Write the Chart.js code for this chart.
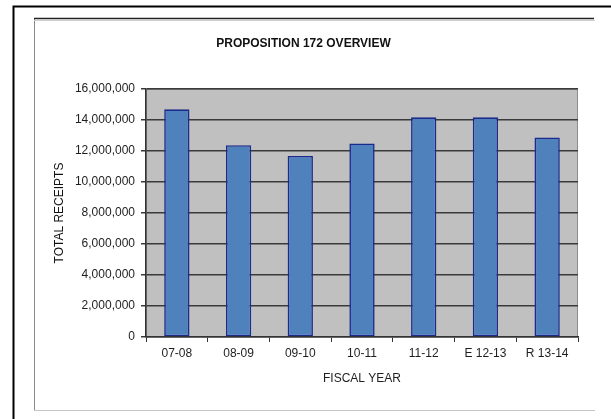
<!DOCTYPE html>
<html><head><meta charset="utf-8">
<script src="https://cdn.jsdelivr.net/npm/chart.js@4"></script>
<style>html,body{margin:0;padding:0;background:#fff;overflow:hidden;}</style>
</head><body>
<canvas id="c" width="611" height="419" style="display:block;width:611px;height:419px"></canvas>
<script>
const categories = ['07-08', '08-09', '09-10', '10-11', '11-12', 'E 12-13', 'R 13-14'];
const receipts = [14690000, 12370000, 11680000, 12490000, 14170000, 14170000, 12870000];
const yMin = 0;
const yMax = 16000000;
const yStep = 2000000;
const chartTitle = 'PROPOSITION 172 OVERVIEW';
const xTitle = 'FISCAL YEAR';
const yTitle = 'TOTAL RECEIPTS';

const FONT = '"Liberation Sans", Arial, sans-serif';
const TEXT = '#1e1e1e';

const frame = {
  id: 'frame',
  beforeDraw(chart) {
    const {ctx, chartArea: a} = chart;
    ctx.save();
    ctx.fillStyle = '#fff';
    ctx.fillRect(0, 0, chart.width, chart.height);
    // outer black frame (top + left)
    ctx.strokeStyle = '#000';
    ctx.lineWidth = 2;
    ctx.beginPath();
    ctx.moveTo(13.5, chart.height);
    ctx.lineTo(13.5, 6.5);
    ctx.lineTo(chart.width, 6.5);
    ctx.stroke();
    // inner chart frame
    ctx.lineWidth = 1;
    ctx.strokeStyle = '#8a8a8a';
    ctx.beginPath(); ctx.moveTo(34.5, 18); ctx.lineTo(34.5, 410.5); ctx.stroke();
    ctx.strokeStyle = '#c4c4c4';
    ctx.beginPath(); ctx.moveTo(34.5, 410.5); ctx.lineTo(595, 410.5); ctx.stroke();
    ctx.strokeStyle = '#222';
    ctx.lineWidth = 1.6;
    ctx.beginPath(); ctx.moveTo(34, 18.5); ctx.lineTo(594, 18.5); ctx.stroke();
    ctx.strokeStyle = '#cfcfcf';
    ctx.lineWidth = 1;
    ctx.beginPath(); ctx.moveTo(34, 20.5); ctx.lineTo(595, 20.5); ctx.stroke();
    // plot area
    ctx.fillStyle = '#c0c0c0';
    ctx.fillRect(a.left, a.top, a.right - a.left, a.bottom - a.top);
    ctx.strokeStyle = '#8c8c8c';
    ctx.lineWidth = 1;
    ctx.strokeRect(a.left + 0.5, a.top + 0.5, a.right - a.left - 1, a.bottom - a.top - 1);
    ctx.restore();
  }
};

new Chart(document.getElementById('c'), {
  type: 'bar',
  data: {
    labels: categories,
    datasets: [{
      data: receipts,
      backgroundColor: '#4f81bd',
      borderColor: '#1c2a8c',
      borderWidth: 1.6,
      borderSkipped: false,
      categoryPercentage: 1,
      barPercentage: 0.41
    }]
  },
  options: {
    responsive: false,
    devicePixelRatio: 1,
    animation: false,
    layout: { padding: { left: 29, right: 33, top: 0, bottom: 0 } },
    plugins: {
      legend: { display: false },
      tooltip: { enabled: false },
      title: {
        display: true,
        text: chartTitle,
        color: '#111',
        font: { family: FONT, size: 12, weight: 'bold' },
        padding: { top: 36, bottom: 38.6 }
      }
    },
    scales: {
      x: {
        grid: { display: true, drawOnChartArea: false, drawTicks: true, tickLength: 5, color: '#333', offset: true },
        border: { display: true, color: '#333', width: 1.5 },
        ticks: { color: TEXT, font: { family: FONT, size: 12 }, padding: 4, maxRotation: 0, autoSkip: false },
        title: { display: true, text: xTitle, color: TEXT, font: { family: FONT, size: 12 }, padding: { top: 0, bottom: 33.5 } },
        afterFit(s) { s.height = 82; }
      },
      y: {
        min: yMin,
        max: yMax,
        ticks: {
          stepSize: yStep,
          color: TEXT,
          font: { family: FONT, size: 12 },
          padding: 6,
          callback: v => Number(v).toLocaleString('en-US')
        },
        grid: { color: '#3a3a3a', lineWidth: 1.5, tickLength: 5, drawTicks: true },
        border: { display: true, color: '#333', width: 1.5 },
        title: { display: true, text: yTitle, color: '#111', font: { family: FONT, size: 12 }, padding: { top: 23.8, bottom: 0 } },
        afterFit(s) { s.width = 117; }
      }
    }
  },
  plugins: [frame]
});
</script>
</body></html>
